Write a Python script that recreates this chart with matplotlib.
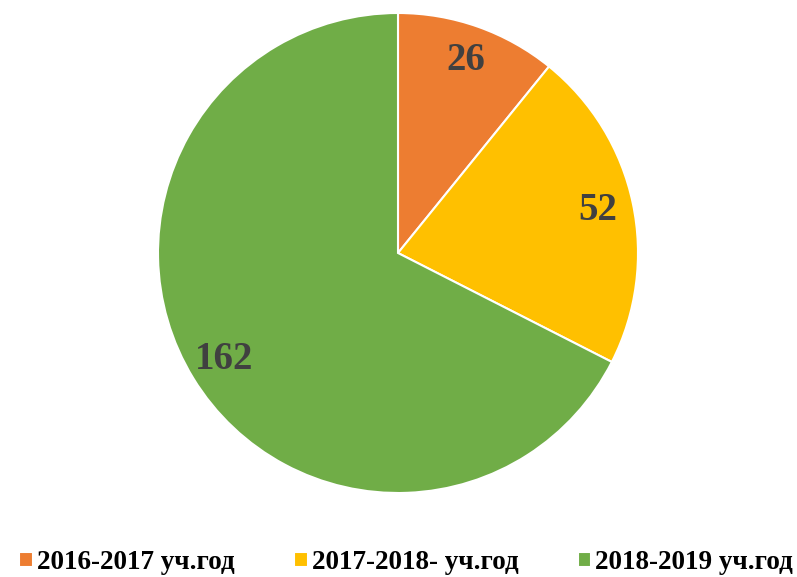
import matplotlib.pyplot as plt

labels = ['2016-2017 уч.год', '2017-2018- уч.год', '2018-2019 уч.год']
values = [26, 52, 162]
colors = ['#ED7D31', '#FFC000', '#70AD47']

plt.rcParams['font.family'] = ['Liberation Serif', 'DejaVu Serif']

fig = plt.figure(figsize=(7.97, 5.77), dpi=100)
ax = fig.add_axes([158 / 797, 84 / 577, 480 / 797, 480 / 577])

wedges, texts, autotexts = ax.pie(
    values, colors=colors, startangle=90, counterclock=False,
    autopct=lambda p: f'{round(p * sum(values) / 100):d}',
    pctdistance=0.85, radius=1.0,
    wedgeprops=dict(edgecolor='white', linewidth=1.5),
    textprops=dict(fontsize=28, fontweight='bold', color='#404040'))
ax.set_xlim(-1, 1)
ax.set_ylim(-1, 1)
ax.set_aspect('equal')

ax.legend(wedges, labels, loc='lower left', bbox_to_anchor=(-0.34, -0.222),
          ncol=3, frameon=False, handlelength=0.5, handleheight=0.5,
          handletextpad=0.15, columnspacing=2.2,
          prop=dict(size=19.5, weight='bold'))

fig.savefig('out.png', dpi=100)
